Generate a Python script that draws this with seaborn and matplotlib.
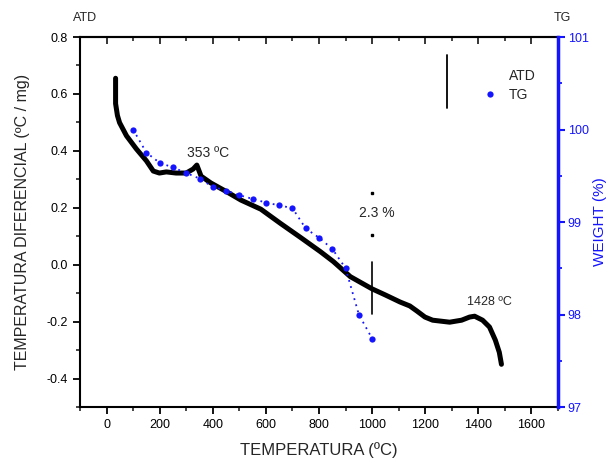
import matplotlib
matplotlib.use("Agg")
import matplotlib.pyplot as plt
from matplotlib.ticker import MultipleLocator, FormatStrFormatter
from matplotlib.lines import Line2D
import seaborn as sns
import pandas as pd

# ATD curve (temperature in ºC, differential temperature in ºC/mg)
atd_temp = [34, 34, 41, 49, 75, 112, 150, 176, 199, 225, 262, 300, 326, 340,
            356, 393, 449, 506, 581, 655, 730, 805, 854, 918, 1000, 1049, 1105,
            1142, 1169, 1199, 1228, 1292, 1337, 1367, 1386, 1416, 1442, 1464,
            1479, 1487]
atd_value = [0.655, 0.566, 0.524, 0.499, 0.453, 0.407, 0.365, 0.329, 0.322,
             0.326, 0.322, 0.322, 0.336, 0.350, 0.311, 0.287, 0.258, 0.227,
             0.195, 0.145, 0.096, 0.046, 0.011, -0.042, -0.085, -0.106, -0.131,
             -0.145, -0.163, -0.184, -0.195, -0.202, -0.195, -0.184, -0.181,
             -0.195, -0.219, -0.265, -0.308, -0.350]

# TG curve (temperature in ºC, weight %)
tg_temp = [100, 150, 200, 250, 300, 350, 400, 450, 500, 550, 600, 650, 700,
           750, 800, 850, 900, 950, 1000]
tg_weight = [100.00, 99.75, 99.64, 99.59, 99.53, 99.47, 99.38, 99.34, 99.29,
             99.25, 99.21, 99.18, 99.15, 98.93, 98.83, 98.71, 98.50, 98.00, 97.74]

x_ticks = [0, 200, 400, 600, 800, 1000, 1200, 1400, 1600]
left_ticks = [-0.4, -0.2, 0.0, 0.2, 0.4, 0.6, 0.8]
right_ticks = [97, 98, 99, 100, 101]

# annotation values
peak1_label = "353 ºC"
peak2_label = "1428 ºC"
loss_label = "2.3 %"
loss_temp = 1000

sns.set_style("ticks")
plt.rcParams['font.family'] = ['Liberation Sans', 'DejaVu Sans']
plt.rcParams['axes.unicode_minus'] = False

atd_df = pd.DataFrame({"T": atd_temp, "ATD": atd_value})
tg_df = pd.DataFrame({"T": tg_temp, "TG": tg_weight})

fig = plt.figure(figsize=(6.13, 4.65), dpi=100)
ax = fig.add_axes([80 / 613, 1 - 407 / 465, 478 / 613, 370 / 465])
ax2 = ax.twinx()

sns.lineplot(data=atd_df, x="T", y="ATD", ax=ax, color="black", linewidth=3.6,
             sort=False, estimator=None)
sns.lineplot(data=tg_df, x="T", y="TG", ax=ax2, color="#1414ff", linewidth=1.3,
             linestyle=(0, (1, 2.5)), marker="o", markersize=4.5,
             markeredgewidth=0, sort=False, estimator=None)

ax.set_xlim(-100, 1700)
ax.set_ylim(-0.5, 0.8)
ax2.set_ylim(97, 101)

ax.set_xticks(x_ticks)
ax.xaxis.set_minor_locator(MultipleLocator(100))
ax.set_yticks(left_ticks)
ax.yaxis.set_minor_locator(MultipleLocator(0.1))
ax.yaxis.set_major_formatter(FormatStrFormatter('%.1f'))
ax2.set_yticks(right_ticks)
ax2.yaxis.set_minor_locator(MultipleLocator(0.5))

for sp in ["left", "bottom", "top"]:
    ax.spines[sp].set_linewidth(1.5)
    ax.spines[sp].set_color("black")
    ax2.spines[sp].set_visible(False)
ax.spines["right"].set_visible(False)
ax2.spines["right"].set_color("#1414ff")
ax2.spines["right"].set_linewidth(2.5)
ax2.spines["right"].set_visible(True)

ax.tick_params(axis="both", which="major", direction="out", length=5,
               width=1.3, labelsize=9, colors="black")
ax.tick_params(axis="both", which="minor", direction="out", length=3, width=1.2)
ax2.tick_params(axis="y", which="major", direction="out", length=5, width=1.5,
                labelsize=9, colors="#1414ff", pad=2)
ax2.tick_params(axis="y", which="minor", direction="out", length=3, width=1.3,
                colors="#1414ff")

top = ax.secondary_xaxis("top")
top.set_xticks(x_ticks)
top.xaxis.set_minor_locator(MultipleLocator(100))
top.tick_params(which="major", direction="in", length=5, width=1.3, labeltop=False)
top.tick_params(which="minor", direction="in", length=3, width=1.2)
top.spines["top"].set_linewidth(1.5)

ax.set_xlabel("TEMPERATURA (ºC)", fontsize=12, labelpad=8)
ax.set_ylabel("TEMPERATURA DIFERENCIAL (ºC / mg)", fontsize=11.5, labelpad=12)
ax2.set_ylabel("WEIGHT (%)", fontsize=11, color="#1414ff", labelpad=3)

# annotations
ax.text(382, 0.393, peak1_label, fontsize=10, ha="center", va="center")
ax.text(1442, -0.131, peak2_label, fontsize=9, ha="center", va="center")
ax.text(1019, 0.18, loss_label, fontsize=10, ha="center", va="center")
ax.plot([loss_temp, loss_temp], [0.011, -0.173], color="black", linewidth=1.2)
ax.plot([loss_temp, loss_temp], [0.251, 0.106], linestyle="none", marker="s",
        markersize=2, color="black")

# legend
handles = [Line2D([], [], color="none"),
           Line2D([], [], color="#1414ff", marker="o", markersize=4.5,
                  markeredgewidth=0, linestyle="none")]
leg = ax.legend(handles, ["ATD", "TG"], loc="upper left",
                bbox_to_anchor=(0.81, 0.947), frameon=False, fontsize=10,
                handlelength=1.5, handletextpad=0.6, labelspacing=0.35)
ax.plot([0.768, 0.768], [0.951, 0.808], transform=ax.transAxes,
        color="black", linewidth=1.3)

fig.text(85 / 613, 1 - 18 / 465, "ATD", fontsize=9, ha="center", va="center")
fig.text(562 / 613, 1 - 18 / 465, "TG", fontsize=9, ha="center", va="center")

fig.savefig("out.png", dpi=100)
